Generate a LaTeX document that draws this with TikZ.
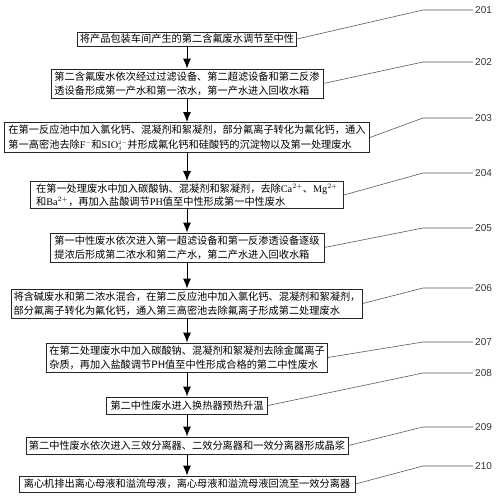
\documentclass[tikz,border=0pt]{standalone}
\usepackage{fontspec}
\setmainfont{Liberation Serif}
\newfontfamily\cjk{Noto Sans CJK SC}
\newfontfamily\tagfont{Liberation Sans}
\usetikzlibrary{arrows.meta}

\newcommand{\ltn}[1]{{\rmfamily #1}}

\tikzset{
  stepbox/.style={draw=black!85, line width=0.8pt, fill=white, inner sep=2pt,
    align=left, font=\cjk\fontsize{10.2}{13.5}\selectfont},
  flow/.style={draw=black, line width=1pt, -{Latex[length=10pt,width=8pt]}},
  leader/.style={draw=black!65, line width=0.6pt},
  tag/.style={anchor=west, inner sep=2pt, text=black!80,
    font=\tagfont\fontsize{10}{12}\selectfont}
}

\begin{document}
\begin{tikzpicture}[x=1pt,y=-1pt]
    \useasboundingbox (0,0) rectangle (500,497);

    \node[stepbox, minimum width=219, minimum height=14] (b1) at (187,39)
      {将产品包装车间产生的第二含氟废水调节至中性};
    \node[stepbox, minimum width=272, minimum height=29] (b2) at (187,83.5)
      {第二含氟废水依次经过过滤设备、第二超滤设备和第二反渗\\透设备形成第一产水和第一浓水，第一产水进入回收水箱};
    \node[stepbox, minimum width=365, minimum height=29] (b3) at (187,137.5)
      {在第一反应池中加入氯化钙、混凝剂和絮凝剂，部分氟离子转化为氟化钙，通入\\[1.5pt]第一高密池去除\ltn{F}$^{\scriptscriptstyle -}$和\ltn{SIO}$_{\scriptscriptstyle 3}^{\scriptscriptstyle 2-}$并形成氟化钙和硅酸钙的沉淀物以及第一处理废水};
    \node[stepbox, minimum width=313, minimum height=26] (b4) at (187,195)
      {在第一处理废水中加入碳酸钠、混凝剂和絮凝剂，去除\ltn{Ca}$^{2+}$、\ltn{Mg}$^{2+}$\\和\ltn{Ba}$^{2+}$，再加入盐酸调节\ltn{PH}值至中性形成第一中性废水};
    \node[stepbox, minimum width=274, minimum height=29] (b5) at (187,247.5)
      {第一中性废水依次进入第一超滤设备和第一反渗透设备逐级\\提浓后形成第二浓水和第二产水，第二产水进入回收水箱};
    \node[stepbox, minimum width=341, minimum height=29] (b6) at (187,303.5)
      {将含碱废水和第二浓水混合，在第二反应池中加入氯化钙、混凝剂和絮凝剂，\\部分氟离子转化为氟化钙，通入第三高密池去除氟离子形成第二处理废水};
    \node[stepbox, minimum width=281, minimum height=29] (b7) at (187,357.5)
      {在第二处理废水中加入碳酸钠、混凝剂和絮凝剂去除金属离子\\杂质，再加入盐酸调节PH值至中性形成合格的第二中性废水};
    \node[stepbox, minimum width=161, minimum height=17] (b8) at (187,405.5)
      {第二中性废水进入换热器预热升温};
    \node[stepbox, minimum width=322, minimum height=17] (b9) at (187,445.5)
      {第二中性废水依次进入三效分离器、二效分离器和一效分离器形成晶浆};
    \node[stepbox, minimum width=336, minimum height=16] (b10) at (187,484)
      {离心机排出离心母液和溢流母液，离心母液和溢流母液回流至一效分离器};

    % flow between steps
    \foreach \a/\b in {b1/b2,b2/b3,b3/b4,b4/b5,b5/b6,b6/b7,b7/b8,b8/b9,b9/b10}
      \draw[flow] (\a.south) -- (\b.north);

    % reference numbers
    \foreach \n/\y in {1/10,2/62,3/118,4/173,5/228,6/288,7/342,8/373,9/427,10/466} {
      \pgfmathtruncatemacro\code{200+\n}
      \node[tag] (t\n) at (473,\y) {\code};
      \coordinate (k\n) at (423,\y);
      \draw[leader] (b\n.east) -- (k\n) -- (t\n.west);
    }

\end{tikzpicture}
\end{document}
